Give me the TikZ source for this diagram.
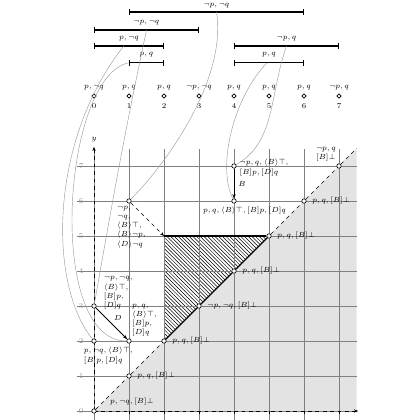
\documentclass[tikz,border=0pt]{standalone}
\usetikzlibrary{patterns,shapes.geometric,arrows.meta}
\begin{document}
\begin{tikzpicture}[x=1cm,y=1cm,font=\fontsize{6}{7.5}\selectfont,
  pt/.style={circle,draw,fill=white,inner sep=0pt,minimum size=3.6pt,line width=0.5pt},
  tl/.style={diamond,draw,fill=white,inner sep=0pt,minimum size=3.6pt,line width=0.5pt},
  bar/.style={line width=0.9pt,{Bar[width=5pt]}-{Bar[width=5pt]}},
  link/.style={black!40,line width=0.35pt},
  gridc/.style={black!50,line width=0.6pt},
  lab/.style={inner sep=1pt,align=left},
  tip/.style={-{Stealth[length=3.5pt,width=2.6pt]}},
]
\useasboundingbox (-2.686,-0.257) rectangle (9.314,11.743);

% regions
\fill[gray!22] (0,0) -- (7.5,0) -- (7.5,7.5) -- cycle;
\fill[pattern=north west lines] (2,2) -- (2,5) -- (5,5) -- cycle;
\draw[gridc] (-0.5,-0.5) grid (7.5,7.5);

% axes
\draw[dashed,line width=0.55pt,tip] (0,0) -- (7.55,0);
\draw[dashed,line width=0.55pt,tip] (0,0) -- (0,7.55);
\node (ylab) at (0,7.75) {$y$};
\foreach \i in {1,...,7} \draw[line width=0.4pt] (\i,0) -- (\i,-0.08);
\foreach \i in {0,...,7} \node[text=black!45] (yt\i) at (-0.37,\i) {$\i$};

% timeline
\foreach \i/\l in {0/{p, \neg q},1/{p, q},2/{p, q},3/{\neg p, \neg q},4/{p, q},5/{p, q},6/{p, q},7/{\neg p, q}}{
  \node[tl] (t\i) at (\i,9) {};
  \node (tl\i) at (\i,9.24) {$\l$};
  \node (tn\i) at (\i,8.7) {$\i$};
}

% intervals
\coordinate (a16) at (1,11.4);  \coordinate (b16) at (6,11.4);
\coordinate (a03) at (0,10.886); \coordinate (b03) at (3,10.886);
\coordinate (a02) at (0,10.43); \coordinate (b02) at (2,10.43);
\coordinate (a12) at (1,9.95);  \coordinate (b12) at (2,9.95);
\coordinate (a47) at (4,10.43); \coordinate (b47) at (7,10.43);
\coordinate (a46) at (4,9.95);  \coordinate (b46) at (6,9.95);
\draw[bar] (a16) -- (b16); \node (l16) at (3.5,11.575) {$\neg p, \neg q$};
\draw[bar] (a03) -- (b03); \node (l03) at (1.5,11.1) {$\neg p, \neg q$};
\draw[bar] (a02) -- (b02); \node (l02) at (1,10.65) {$p, \neg q$};
\draw[bar] (a12) -- (b12); \node (l12) at (1.5,10.17) {$p, q$};
\draw[bar] (a47) -- (b47); \node (l47) at (5.5,10.65) {$\neg p, q$};
\draw[bar] (a46) -- (b46); \node (l46) at (5,10.17) {$p, q$};
\coordinate (m16) at (3.5,11.4);
\coordinate (m03) at (1.5,10.886);
\coordinate (m02) at (0.85,10.43);
\coordinate (m47) at (5.5,10.43);
\coordinate (m46) at (4.95,9.95);

% points
\foreach \i in {0,...,7} \node[pt] (p\i\i) at (\i,\i) {};
\node[pt] (p02) at (0,2) {};
\node[pt] (p03) at (0,3) {};
\node[pt] (p12) at (1,2) {};
\node[pt] (p16) at (1,6) {};
\node[pt] (p46) at (4,6) {};
\node[pt] (p47) at (4,7) {};
\coordinate (c25) at (2,5);
\coordinate (cend) at (7.5,7.5);

% links
\draw[link] (m16) .. controls (3.8,9.5) and (2.1,7.1) .. (p16);
\draw[link] (m03) to[out=-102,in=80] (p03);
\draw[link] (m02) .. controls (-1.3,7.7) and (-1.3,3.6) .. (p02);
\draw[link] (a12) .. controls (-0.9,9.6) and (-1.4,2.0) .. (p12);
\draw[link] (m47) .. controls (5.0,9.0) and (5.2,7.7) .. (p47);
\draw[link] (m46) .. controls (4.0,9.0) and (3.5,7.0) .. (p46);

% diagonal and hatch border
\draw[dashed,line width=0.5pt] (p00) -- (p11) -- (p22);
\draw[line width=0.9pt] (p22) -- (p33) -- (p44) -- (p55);
\draw[line width=0.9pt] (c25) -- (p55);
\draw[dashed,line width=0.5pt] (p55) -- (p66) -- (p77) -- (cend);

% arrows
\draw[line width=0.6pt,tip] (p03) -- node[above right=-1.5pt,pos=0.5] (dl) {$D$} (p12);
\draw[line width=0.6pt,tip] (p47) -- node[right=0pt] (bl) {$B$} (p46);
\draw[dashed,line width=0.5pt,tip] (p16) -- (c25);

% labels
\node[lab,anchor=west] at (0.42,0.26) {$p, \neg q, [B]\bot$};
\foreach \i/\l in {1/{p, q},2/{p, q},3/{\neg p, \neg q},4/{p, q},5/{p, q},6/{p, q}}
  \node[lab,anchor=west] (q\i) at (\i+0.2,\i) {$\l, [B]\bot$};
\node[lab,anchor=south east,align=center] (q7) at (6.95,7.08) {$\neg p, q$\\$[B]\bot$};
\node[lab,anchor=west] (q47) at (4.12,6.95) {$\neg p, q, \langle B\rangle\top,$\\$[B]p, [D]q$};
\node[lab] (q46) at (4.3,5.72) {$p, q, \langle B\rangle\top, [B]p, [D]q$};
\node[lab,anchor=north west] (q16) at (0.62,5.9) {$\neg p,$\\$\neg q,$\\$\langle B\rangle\top,$\\$\langle B\rangle\neg p,$\\$\langle D\rangle\neg q$};
\node[lab,anchor=south west] (q03) at (0.24,2.86) {$\neg p, \neg q,$\\$\langle B\rangle\top,$\\$[B]p,$\\$[D]q$};
\node[lab,anchor=south west] (q12) at (1.05,2.08) {$p, q,$\\$\langle B\rangle\top,$\\$[B]p,$\\$[D]q$};
\node[lab,anchor=north west] (q02) at (-0.33,1.86) {$p, \neg q, \langle B\rangle\top,$\\$[B]p, [D]q$};
\end{tikzpicture}
\end{document}
